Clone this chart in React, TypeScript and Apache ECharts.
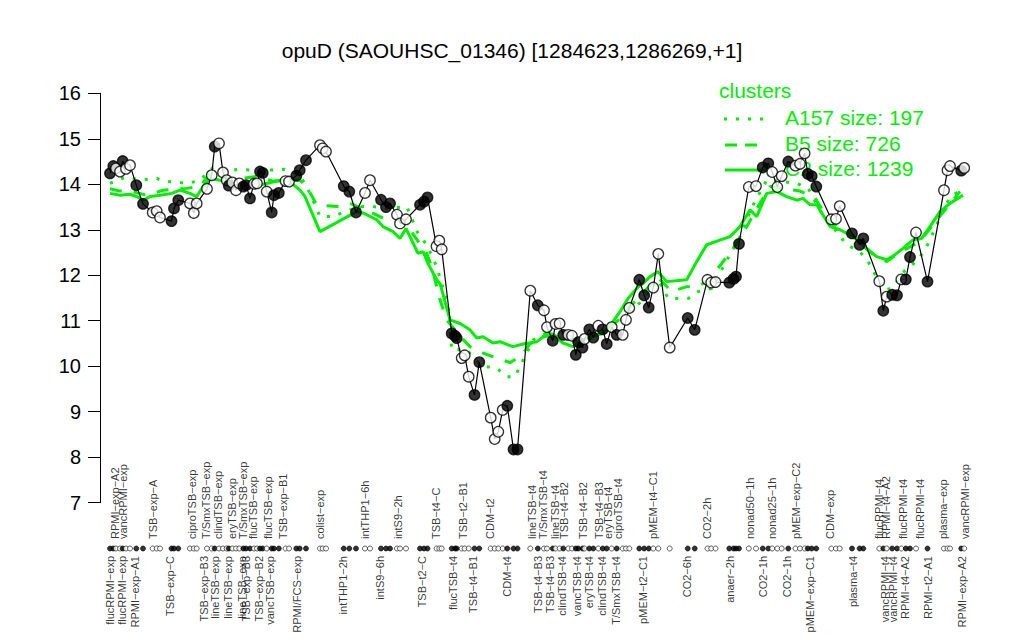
import React, { useEffect, useRef } from "react";
import * as echarts from "echarts";

const FONT = "Liberation Sans, Arial, Helvetica, sans-serif";
const GREEN = "#00ee00";

const titleText = "opuD (SAOUHSC_01346) [1284623,1286269,+1]";
const yTicks = [7, 16, 1];

// sample positions along the x axis (sample slot units) and expression values
const pointPos = [
  1.0, 1.33, 1.6, 2.0, 2.27, 2.6, 3.0, 3.63, 4.3, 5.27,
  5.67, 6.0, 7.15, 7.4, 7.83, 9.0, 9.38, 9.67, 10.7, 11.17,
  11.47, 11.9, 12.3, 12.67, 12.88, 13.23, 13.6, 13.93, 14.33, 14.6,
  15.0, 15.4, 15.7, 16.0, 16.27, 16.67, 17.17, 17.4, 17.88, 18.55,
  18.9, 19.63, 19.97, 20.6, 22.0, 22.27, 22.6, 24.37, 24.93, 25.6,
  26.5, 27.0, 28.1, 28.6, 29.0, 29.7, 30.0, 30.6, 32.0, 32.4,
  32.75, 33.65, 33.93, 34.17, 35.17, 35.5, 35.67, 36.17, 36.47, 36.87,
  37.45, 37.93, 39.07, 39.47, 39.83, 40.27, 40.73, 41.35, 41.75, 43.03,
  43.78, 44.4, 44.7, 45.27, 45.55, 45.96, 46.33, 46.83, 47.2, 47.58,
  47.83, 48.25, 48.45, 48.93, 49.33, 49.83, 50.27, 50.67, 51.17, 51.67,
  52.27, 52.6, 52.93, 53.93, 54.42, 54.87, 55.33, 55.83, 56.97, 58.77,
  59.47, 60.75, 61.12, 61.55, 62.93, 63.35, 63.6, 63.9, 64.88, 65.6,
  66.27, 66.83, 67.22, 67.73, 68.17, 68.83, 69.55, 70.0, 70.46, 70.78,
  71.17, 71.63, 73.13, 73.6, 73.97, 75.2, 75.96, 76.33, 77.93, 78.33,
  78.67, 79.22, 79.7, 80.13, 80.58, 81.0, 81.6, 82.75, 84.4, 84.75,
  85.0, 86.12, 86.42,
];

const pointVal = [
  14.24, 14.4, 14.35, 14.28, 14.51, 14.34, 14.42, 13.98, 13.57, 13.38,
  13.41, 13.27, 13.19, 13.47, 13.65, 13.58, 13.37, 13.58, 13.9, 14.2,
  14.83, 14.9, 14.26, 14.09, 13.97, 14.04, 13.87, 14.02, 13.95, 13.98,
  13.69, 14.01, 14.02, 14.28, 14.25, 13.84, 13.38, 13.76, 13.81, 14.07,
  14.06, 14.19, 14.31, 14.53, 14.86, 14.79, 14.72, 13.96, 13.84, 13.38,
  13.81, 14.09, 13.66, 13.5, 13.58, 13.33, 13.14, 13.23, 13.55, 13.62,
  13.71, 12.64, 12.76, 12.57, 10.72, 10.67, 10.62, 10.18, 10.24, 9.77,
  9.37, 10.09, 8.87, 8.4, 8.56, 9.04, 9.13, 8.17, 8.17, 11.66,
  11.34, 11.23, 10.86, 10.56, 10.93, 10.94, 10.69, 10.69, 10.67, 10.25,
  10.53, 10.41, 10.6, 10.81, 10.63, 10.89, 10.81, 10.49, 10.86, 10.69,
  10.69, 11.02, 11.28, 11.9, 11.56, 11.29, 11.73, 12.47, 10.41, 11.06,
  10.8, 11.9, 11.84, 11.85, 11.84, 11.92, 11.97, 12.69, 13.94, 13.96,
  14.37, 14.46, 14.27, 13.94, 14.18, 14.5, 14.41, 14.45, 14.68, 14.23,
  14.18, 13.95, 13.23, 13.24, 13.52, 12.92, 12.67, 12.81, 11.87, 11.22,
  11.53, 11.57, 11.56, 11.91, 11.91, 12.4, 12.94, 11.86, 13.87, 14.31,
  14.4, 14.3, 14.36,
];

const pointFilled = [
  1, 1, 0, 0, 1, 0, 0, 1, 1, 0,
  0, 0, 1, 1, 1, 0, 0, 0, 0, 0,
  1, 0, 0, 0, 1, 0, 0, 0, 1, 1,
  1, 0, 0, 1, 1, 0, 1, 1, 1, 0,
  0, 1, 1, 1, 0, 0, 0, 1, 1, 1,
  0, 0, 1, 1, 1, 0, 0, 0, 1, 1,
  1, 0, 0, 0, 1, 1, 1, 0, 0, 0,
  1, 1, 0, 0, 0, 0, 1, 1, 1, 0,
  1, 0, 0, 1, 0, 0, 1, 0, 0, 1,
  1, 1, 0, 1, 1, 0, 1, 1, 0, 1,
  0, 0, 0, 1, 1, 1, 0, 0, 0, 1,
  1, 0, 0, 0, 1, 1, 1, 1, 0, 0,
  1, 1, 0, 0, 0, 1, 0, 0, 0, 1,
  1, 1, 0, 0, 0, 1, 1, 1, 0, 1,
  0, 1, 1, 0, 1, 1, 0, 1, 0, 0,
  0, 1, 0,
];

// cluster profiles
const c2Pos = [
  1.0, 2.0, 3.0, 3.67, 4.33, 5.0, 6.0, 7.17, 8.0, 9.0, 9.67, 10.3, 11.0, 12.0, 13.3, 15.0, 16.3, 18.3, 19.3, 20.0,
  20.5, 22.0, 25.67, 26.3, 27.67, 28.3, 29.3, 30.0, 30.6, 31.8, 32.3, 32.8, 33.67, 34.0, 34.5, 35.0, 36.0, 37.0, 37.67, 38.3,
  39.3, 40.0, 41.3, 42.3, 43.7, 44.8, 45.3, 46.3, 47.3, 48.3, 49.3, 50.3, 51.17, 52.0, 52.8, 53.67, 54.3, 55.0, 55.8, 56.67,
  58.67, 59.67, 60.67, 63.0, 64.0, 65.0, 65.67, 66.67, 67.67, 68.67, 69.67, 70.3, 71.0, 71.67, 73.0, 74.0, 75.3, 76.67, 77.67, 78.67,
  79.3, 80.3, 81.3, 82.17, 83.0, 84.0, 85.0, 86.3,
];
const c2Val = [
  13.8, 13.76, 13.78, 13.73, 13.65, 13.73, 13.76, 13.8, 13.87, 13.8, 13.73, 13.95, 14.13, 14.09, 14.0, 13.96, 14.0, 14.1, 14.0, 13.87,
  13.73, 12.96, 13.4, 13.37, 13.22, 13.07, 12.96, 12.81, 13.03, 12.48, 12.52, 12.26, 11.9, 11.82, 11.42, 11.02, 10.94, 10.8, 10.62, 10.65,
  10.51, 10.54, 10.43, 10.49, 10.54, 10.73, 10.7, 10.51, 10.43, 10.58, 10.65, 10.73, 10.94, 11.2, 11.49, 11.71, 11.82, 11.97, 12.08, 11.86,
  11.9, 12.3, 12.67, 12.85, 13.07, 13.44, 13.29, 13.8, 13.84, 13.73, 13.65, 13.69, 13.55, 13.55, 13.07, 13.0, 12.85, 12.59, 12.41, 12.34,
  12.42, 12.59, 12.78, 12.81, 13.07, 13.4, 13.58, 13.76,
];

const b5Pos = [
  1.0, 2.0, 3.0, 4.67, 6.33, 8.67, 10.0, 11.0, 13.0, 15.67, 17.33, 20.0, 20.67, 21.67, 23.67, 25.0, 27.33, 28.67, 30.0, 31.0,
  32.67, 33.17, 34.0, 34.67, 36.17, 37.0, 38.33, 39.67, 41.0, 42.0, 43.0, 44.33, 46.0, 47.5, 49.0, 50.5, 52.0, 54.0, 55.8, 57.17,
  58.67, 59.83, 61.0, 63.33, 64.5, 65.5, 67.0, 68.5, 70.0, 71.5, 73.0, 75.0, 77.0, 78.67, 80.0, 82.0, 84.0, 86.0,
];
const b5Val = [
  13.9, 13.85, 13.85, 13.76, 13.87, 13.91, 13.95, 14.24, 14.1, 14.17, 14.07, 14.09, 13.95, 13.55, 13.51, 13.58, 13.36, 13.22, 13.25, 13.0,
  12.48, 12.19, 11.46, 11.02, 10.62, 10.43, 10.29, 10.18, 10.08, 10.21, 10.49, 10.65, 10.7, 10.55, 10.65, 10.75, 11.05, 11.55, 11.95, 11.64,
  11.75, 11.75, 11.93, 12.59, 13.0, 13.4, 13.95, 13.9, 13.85, 13.7, 13.15, 12.95, 12.5, 12.3, 12.5, 12.75, 13.3, 13.84,
];

const a157Pos = [
  1.0, 2.5, 4.17, 5.67, 6.33, 8.83, 10.0, 11.3, 13.17, 14.0, 16.0, 18.5, 20.0, 21.0, 22.0, 23.3, 24.5, 26.0, 27.3, 28.67,
  30.67, 31.8, 32.67, 33.67, 34.83, 35.17, 36.67, 37.83, 38.67, 39.67, 40.67, 41.5, 42.33, 43.33, 44.67, 46.5, 48.5, 50.0, 52.0, 54.0,
  55.8, 56.83, 58.83, 59.8, 61.17, 62.33, 63.17, 64.0, 65.2, 66.67, 68.17, 69.67, 70.83, 72.33, 73.5, 74.67, 75.67, 76.5, 77.0, 78.33,
  79.17, 80.5, 81.83, 82.83, 83.67, 85.0, 86.33,
];
const a157Val = [
  14.02, 14.15, 14.1, 14.13, 14.07, 14.02, 14.09, 14.37, 14.31, 14.33, 14.3, 14.33, 14.2, 13.8, 13.29, 13.29, 13.4, 13.51, 13.51, 13.47,
  13.51, 12.92, 12.67, 12.19, 11.31, 10.36, 10.36, 10.08, 9.99, 9.96, 9.77, 9.77, 10.14, 10.58, 10.73, 10.6, 10.55, 10.7, 11.0, 11.4,
  11.9, 11.49, 11.49, 11.64, 11.71, 12.19, 12.52, 12.85, 13.5, 14.09, 14.06, 14.02, 13.91, 13.29, 13.0, 12.67, 12.56, 12.41, 12.23, 11.68,
  11.71, 12.11, 12.34, 12.7, 13.11, 13.73, 13.89,
];

const legendTitle = "clusters";
const legendNames = ["A157 size: 197", "B5 size: 726", "C2 size: 1239"];

const topLabels = [
  "RPMI\u2212exp\u2212A2", "vancRPMI\u2212exp", "TSB\u2212exp\u2212A", "ciproTSB\u2212exp", "T/SmxTSB\u2212exp",
  "clindTSB\u2212exp", "eryTSB\u2212exp", "T/SmxTSB\u2212exp", "flucTSB\u2212exp", "flucTSB\u2212exp",
  "TSB\u2212exp\u2212B1", "colist\u2212exp", "intTHP1\u22126h", "intS9\u22122h", "TSB\u2212t4\u2212C",
  "TSB\u2212t2\u2212B1", "CDM\u2212t2", "lineTSB\u2212t4", "T/SmxTSB\u2212t4", "lineTSB\u2212t4",
  "TSB\u2212t4\u2212B2", "TSB\u2212t4\u2212B2", "TSB\u2212t4\u2212B3", "eryTSB\u2212t4", "ciproTSB\u2212t4",
  "pMEM\u2212t4\u2212C1", "CO2\u22122h", "nonad50\u22121h", "nonad25\u22121h", "pMEM\u2212exp\u2212C2",
  "CDM\u2212exp", "flucRPMI\u2212t4", "RPMI\u2212t4\u2212A2", "flucRPMI\u2212t4", "flucRPMI\u2212t4",
  "plasma\u2212exp", "vancRPMI\u2212exp",
];
const topLabelPos = [
  1.5, 2.33, 5.27, 9.17, 10.6, 11.83, 13.17, 14.33, 15.33, 16.83,
  18.33, 22.0, 26.5, 29.83, 33.6, 36.27, 39.0, 43.17, 44.27, 45.5,
  46.4, 48.27, 49.93, 50.83, 51.83, 55.33, 60.67, 65.0, 67.17, 69.6,
  73.0, 77.9, 78.55, 80.33, 82.0, 84.33, 86.5,
];

const bottomLabels = [
  "flucRPMI\u2212exp", "flucRPMI\u2212exp", "RPMI\u2212exp\u2212A1", "TSB\u2212exp\u2212C", "TSB\u2212exp\u2212B3",
  "lineTSB\u2212exp", "lineTSB\u2212exp", "lineTSB\u2212exp", "TSB\u2212exp\u2212B3", "TSB\u2212exp\u2212B2",
  "vancTSB\u2212exp", "RPMI/FCS\u2212exp", "intTHP1\u22122h", "intS9\u22126h", "TSB\u2212t2\u2212C",
  "flucTSB\u2212t4", "TSB\u2212t4\u2212B1", "CDM\u2212t4", "TSB\u2212t4\u2212B3", "TSB\u2212t4\u2212B3",
  "clindTSB\u2212t4", "vancTSB\u2212t4", "eryTSB\u2212t4", "clindTSB\u2212t4", "T/SmxTSB\u2212t4",
  "pMEM\u2212t2\u2212C1", "CO2\u22126h", "anaer\u22122h", "CO2\u22121h", "CO2\u22121h",
  "pMEM\u2212exp\u2212C1", "plasma\u2212t4", "vancRPMI\u2212t4", "vancRPMI\u2212t4", "RPMI\u2212t4\u2212A2",
  "RPMI\u2212t2\u2212A1", "RPMI\u2212exp\u2212A2",
];
const bottomLabelPos = [
  1.0, 2.17, 3.5, 7.0, 10.4, 11.5, 12.83, 14.17, 14.6, 15.93,
  17.0, 19.73, 24.33, 28.0, 32.17, 35.33, 37.33, 40.67, 43.83, 45.0,
  46.17, 47.67, 48.93, 50.17, 51.6, 54.33, 58.67, 63.0, 66.27, 68.67,
  71.0, 75.33, 78.5, 79.33, 80.5, 82.83, 86.17,
];

const X_MIN = 0;
const X_MAX = 87;

export default function App() {
  const ref = useRef<HTMLDivElement>(null);

  useEffect(() => {
    if (!ref.current) return;
    const chart = echarts.init(ref.current, null, { renderer: "svg" });

    const pts = pointPos.map((p, i) => ({
      value: [p, pointVal[i]],
      itemStyle: { color: pointFilled[i] ? "#000" : "#fff" },
    }));
    const rowPts = pointPos.map((p, i) => ({
      value: [p, 18.5],
      itemStyle: { color: pointFilled[i] ? "#000" : "#fff" },
    }));

    const greenLine = (pos: number[], val: number[], dash: any, name: string) => ({
      type: "line",
      name,
      xAxisIndex: 0,
      yAxisIndex: 0,
      data: pos.map((p, i) => [p, val[i]]),
      symbol: "none",
      z: 2,
      lineStyle: { color: GREEN, width: 3, type: dash, cap: "butt" },
      silent: true,
    });

    const labelSeries = (names: string[], pos: number[], yv: number, align: string) => ({
      type: "scatter",
      xAxisIndex: 1,
      yAxisIndex: 1,
      data: pos.map((p, i) => ({ value: [p, yv], name: names[i] })),
      symbol: "circle",
      symbolSize: 1,
      itemStyle: { color: "rgba(0,0,0,0)" },
      label: {
        show: true,
        formatter: "{b}",
        rotate: 90,
        position: "inside",
        align,
        verticalAlign: "middle",
        fontSize: 11,
        color: "#000",
        fontFamily: FONT,
      },
      silent: true,
      z: 3,
    });

    const option: any = {
      animation: false,
      backgroundColor: "#fff",
      title: {
        text: titleText,
        left: "center",
        top: 35,
        textStyle: { fontSize: 21, fontWeight: "normal", color: "#000", fontFamily: FONT },
      },
      grid: [
        { left: 100, width: 870, top: 93.3, height: 409.4 },
        { left: 100, width: 870, top: 530, height: 40 },
      ],
      xAxis: [
        { type: "value", gridIndex: 0, min: X_MIN, max: X_MAX, show: false },
        { type: "value", gridIndex: 1, min: X_MIN, max: X_MAX, show: false },
      ],
      yAxis: [
        {
          type: "value",
          gridIndex: 0,
          min: yTicks[0],
          max: yTicks[1],
          interval: yTicks[2],
          offset: 14,
          axisLine: { show: true, lineStyle: { color: "#000", width: 1 } },
          axisTick: { show: true, length: 12, lineStyle: { color: "#000", width: 1 } },
          axisLabel: { fontSize: 20, color: "#000", fontFamily: FONT, margin: 5 },
          splitLine: { show: false },
        },
        { type: "value", gridIndex: 1, min: 0, max: 40, inverse: true, show: false },
      ],
      graphic: [
        {
          type: "text",
          left: 719,
          top: 80,
          z: 0,
          style: { text: legendTitle, fill: GREEN, fontSize: 21, fontFamily: FONT },
        },
        {
          type: "line",
          z: 0,
          shape: { x1: 724, y1: 119, x2: 764, y2: 119 },
          style: { stroke: GREEN, lineWidth: 3, lineDash: [3, 9] },
        },
        {
          type: "line",
          z: 0,
          shape: { x1: 725, y1: 145, x2: 757, y2: 145 },
          style: { stroke: GREEN, lineWidth: 3, lineDash: [12, 8] },
        },
        {
          type: "line",
          z: 0,
          shape: { x1: 725, y1: 170, x2: 767, y2: 170 },
          style: { stroke: GREEN, lineWidth: 3 },
        },
        ...legendNames.map((n, i) => ({
          type: "text",
          left: 785,
          top: 107 + i * 25.5,
          z: 0,
          style: { text: n, fill: GREEN, fontSize: 21, fontFamily: FONT },
        })),
      ],
      series: [
        greenLine(a157Pos, a157Val, [3, 9], "A157"),
        greenLine(b5Pos, b5Val, [12, 12], "B5"),
        greenLine(c2Pos, c2Val, "solid", "C2"),
        {
          type: "line",
          xAxisIndex: 0,
          yAxisIndex: 0,
          data: pointPos.map((p, i) => [p, pointVal[i]]),
          symbol: "none",
          lineStyle: { color: "#000", width: 1.2 },
          z: 4,
          silent: true,
        },
        {
          type: "scatter",
          xAxisIndex: 0,
          yAxisIndex: 0,
          data: pts,
          symbol: "circle",
          symbolSize: 10.5,
          itemStyle: { borderColor: "#000", borderWidth: 1.3 },
          z: 5,
          silent: true,
        },
        {
          type: "scatter",
          xAxisIndex: 1,
          yAxisIndex: 1,
          data: rowPts,
          symbol: "circle",
          symbolSize: 5,
          itemStyle: { borderColor: "#000", borderWidth: 0.8 },
          z: 5,
          silent: true,
        },
        labelSeries(topLabels, topLabelPos, 9, "left"),
        labelSeries(bottomLabels, bottomLabelPos, 26, "right"),
      ],
    };

    chart.setOption(option);
    return () => chart.dispose();
  }, []);

  return (
    <div
      ref={ref}
      style={{ position: "fixed", left: 0, top: 0, width: 1024, height: 640, background: "#fff" }}
    />
  );
}
